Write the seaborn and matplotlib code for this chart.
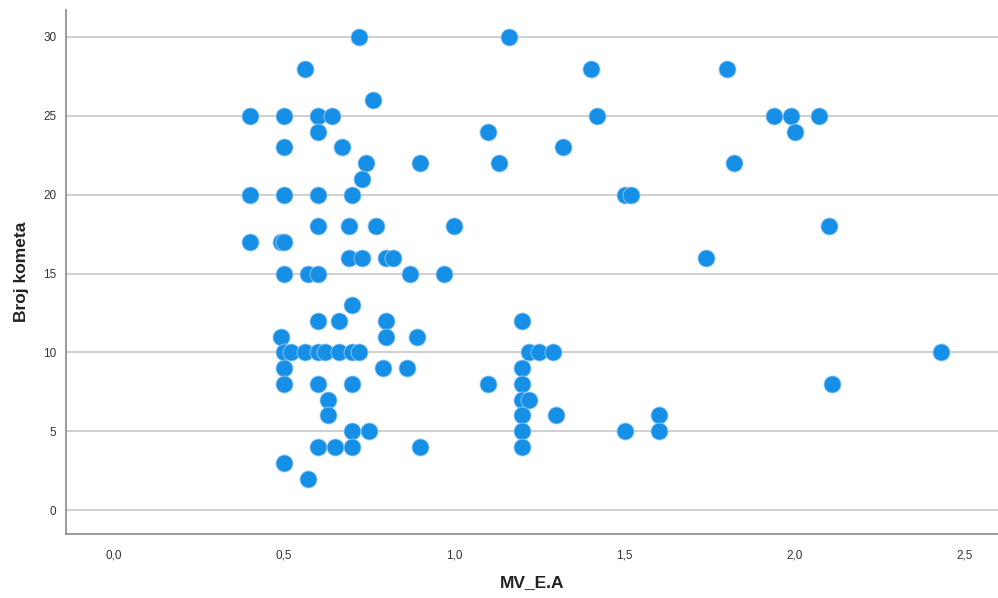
import matplotlib
matplotlib.use("Agg")
import matplotlib.pyplot as plt
from matplotlib.ticker import FuncFormatter
import seaborn as sns
import pandas as pd

# MV_E.A value and number of comets for each observation
mv_ea = [
    0.72, 1.16,
    0.56, 1.40, 1.80,
    0.76,
    0.40, 0.50, 0.60, 0.64, 1.42, 1.94, 1.99, 2.07,
    0.60, 1.10, 2.00,
    0.50, 0.67, 1.32,
    0.74, 0.90, 1.13, 1.82,
    0.73,
    0.40, 0.50, 0.60, 0.70, 1.50, 1.52,
    0.60, 0.69, 0.77, 1.00, 2.10,
    0.40, 0.49, 0.50,
    0.69, 0.73, 0.80, 0.82, 1.74,
    0.50, 0.57, 0.60, 0.87, 0.97,
    0.70,
    0.60, 0.66, 0.80, 1.20,
    0.49, 0.80, 0.89,
    0.50, 0.52, 0.56, 0.60, 0.62, 0.66, 0.70, 0.72, 1.22, 1.25, 1.29, 2.43,
    0.50, 0.79, 0.86, 1.20,
    0.50, 0.60, 0.70, 1.10, 1.20, 2.11,
    0.63, 1.20, 1.22,
    0.63, 1.20, 1.30, 1.60,
    0.70, 0.75, 1.20, 1.50, 1.60,
    0.60, 0.65, 0.70, 0.90, 1.20,
    0.50,
    0.57,
]
broj_kometa = [
    30, 30,
    28, 28, 28,
    26,
    25, 25, 25, 25, 25, 25, 25, 25,
    24, 24, 24,
    23, 23, 23,
    22, 22, 22, 22,
    21,
    20, 20, 20, 20, 20, 20,
    18, 18, 18, 18, 18,
    17, 17, 17,
    16, 16, 16, 16, 16,
    15, 15, 15, 15, 15,
    13,
    12, 12, 12, 12,
    11, 11, 11,
    10, 10, 10, 10, 10, 10, 10, 10, 10, 10, 10, 10,
    9, 9, 9, 9,
    8, 8, 8, 8, 8, 8,
    7, 7, 7,
    6, 6, 6, 6,
    5, 5, 5, 5, 5,
    4, 4, 4, 4, 4,
    3,
    2,
]

x_ticks = [0.0, 0.5, 1.0, 1.5, 2.0, 2.5]
y_ticks = [0, 5, 10, 15, 20, 25, 30]

df = pd.DataFrame({"MV_E.A": mv_ea, "Broj kometa": broj_kometa})

sns.set_theme(style="white")
plt.rcParams["font.family"] = ["Liberation Sans", "DejaVu Sans"]

fig = plt.figure(figsize=(9.98, 5.98), dpi=100)
ax = fig.add_axes([0.0661, 0.107, 0.9339, 0.876])

sns.scatterplot(
    data=df, x="MV_E.A", y="Broj kometa", ax=ax,
    s=150, color="#1690e6", edgecolor="#9ccbf2", linewidth=0.6,
    alpha=1.0, zorder=3,
)

ax.set_xlim(-0.141, 2.597)
ax.set_ylim(-1.52, 31.7)
ax.set_xticks(x_ticks)
ax.set_yticks(y_ticks)
ax.xaxis.set_major_formatter(FuncFormatter(lambda v, p: f"{v:.1f}".replace(".", ",")))
ax.yaxis.set_major_formatter(FuncFormatter(lambda v, p: f"{int(v)}"))

ax.yaxis.grid(True, color="#cccccc", linewidth=1.3, zorder=0)
ax.xaxis.grid(False)
ax.set_axisbelow(True)

for side in ("top", "right"):
    ax.spines[side].set_visible(False)
for side in ("left", "bottom"):
    ax.spines[side].set_color("#8a8a8a")
    ax.spines[side].set_linewidth(1.2)

ax.tick_params(axis="both", length=0, labelsize=8.5, labelcolor="#333333")
ax.tick_params(axis="x", pad=11)
ax.tick_params(axis="y", pad=7)

ax.set_xlabel("MV_E.A", fontsize=12.5, fontweight="bold", color="#222222", labelpad=10)
ax.set_ylabel("Broj kometa", fontsize=12.5, fontweight="bold", color="#222222", labelpad=10)

fig.savefig("out.png", dpi=100)
